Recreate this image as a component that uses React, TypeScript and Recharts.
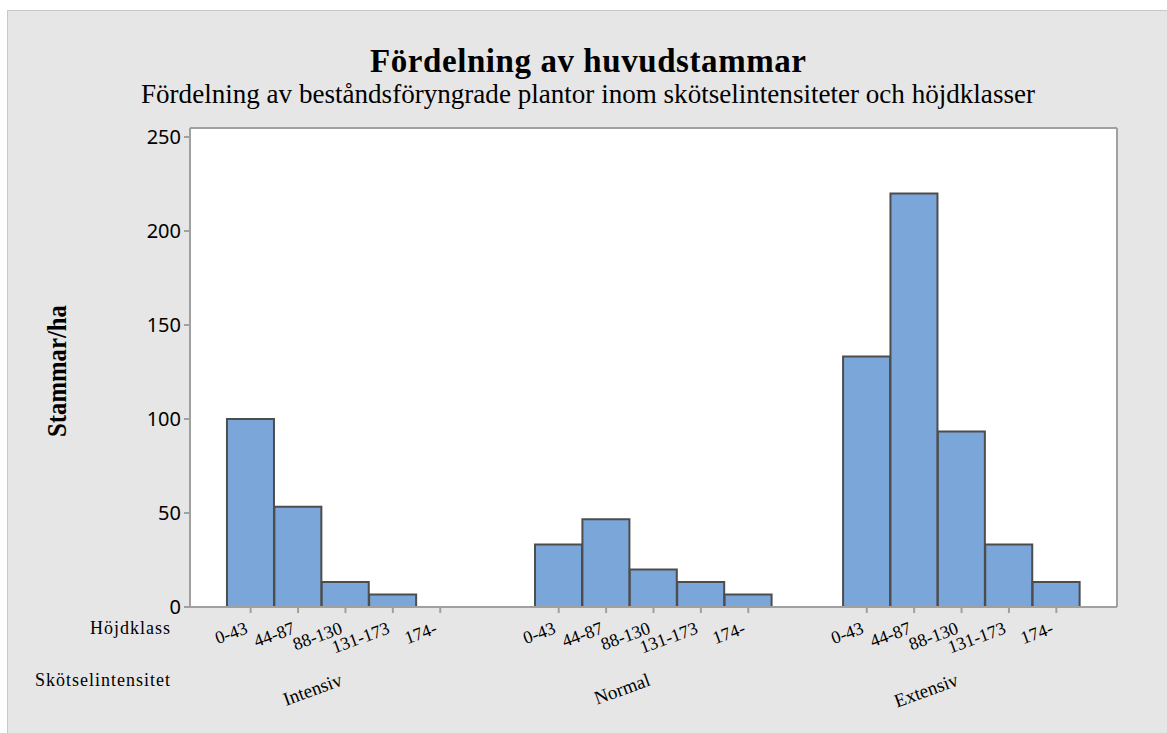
import React from "react";
import {
  BarChart,
  Bar,
  XAxis,
  YAxis,
  CartesianGrid,
  ReferenceLine,
} from "recharts";

// höjdklasser (cm) och skötselintensiteter
const CLASSES = ["0-43", "44-87", "88-130", "131-173", "174-"];
const GROUPS = ["Intensiv", "Normal", "Extensiv"];

// stammar/ha per höjdklass
const INTENSIV = [100, 53.3, 13.3, 6.7, 0];
const NORMAL = [33.3, 46.7, 20, 13.3, 6.7];
const EXTENSIV = [133.3, 220, 93.3, 33.3, 13.3];

const Y_TICKS = [0, 50, 100, 150, 200, 250];
const Y_MAX = 254.8;

// layout on the numeric x axis, in bar widths
const PAD = 0.78;
const GAP = 1.5;
const X_MAX = 2 * PAD + 15 + 2 * GAP;

const FRAME = "#a0a0a0";
const SERIF = "'Liberation Serif', 'Times New Roman', serif";

const data = [INTENSIV, NORMAL, EXTENSIV].flatMap((vals, g) =>
  vals.map((v, i) => ({
    x: PAD + 0.5 + g * (5 + GAP) + i,
    v,
    klass: CLASSES[i],
    grupp: GROUPS[g],
  }))
);
const xTicks = data.map((d) => d.x);

function XTick(props: any) {
  const { x, y, index } = props;
  const label = CLASSES[index % 5];
  const showGroup = index % 5 === 2;
  const ty = y + 18;
  const gy = y + 70;
  return (
    <g>
      <text
        x={x - 2}
        y={ty}
        textAnchor="end"
        fontFamily={SERIF}
        fontSize={18}
        fill="#000"
        transform={`rotate(-20, ${x - 2}, ${ty})`}
      >
        {label}
      </text>
      {showGroup && (
        <text
          x={x - 2}
          y={gy}
          textAnchor="end"
          fontFamily={SERIF}
          fontSize={19}
          fill="#000"
          transform={`rotate(-20, ${x - 2}, ${gy})`}
        >
          {GROUPS[Math.floor(index / 5)]}
        </text>
      )}
    </g>
  );
}

export default function App() {
  return (
    <div
      style={{
        position: "absolute",
        left: 0,
        top: 0,
        width: 1167,
        height: 733,
        background: "#fff",
        overflow: "hidden",
      }}
    >
      <div
        style={{
          position: "absolute",
          left: 7,
          top: 10,
          width: 1170,
          height: 730,
          background: "#e6e6e6",
          borderLeft: "1px solid #c8c8c8",
          borderTop: "1px solid #c8c8c8",
        }}
      />
      <div style={{ position: "absolute", left: 0, top: 0 }}>
        <BarChart
          width={1167}
          height={733}
          data={data}
          margin={{ top: 128, right: 50, left: 130, bottom: 96 }}
          barCategoryGap={0}
        >
          <CartesianGrid fill="#ffffff" horizontal={false} vertical={false} />
          <XAxis
            dataKey="x"
            type="number"
            domain={[0, X_MAX]}
            ticks={xTicks}
            interval={0}
            height={30}
            axisLine={{ stroke: FRAME, strokeWidth: 2 }}
            tickLine={{ stroke: FRAME, strokeWidth: 2 }}
            tickSize={6}
            tick={<XTick />}
          />
          <YAxis
            type="number"
            domain={[0, Y_MAX]}
            ticks={Y_TICKS}
            interval={0}
            width={60}
            axisLine={{ stroke: FRAME, strokeWidth: 2 }}
            tickLine={{ stroke: FRAME, strokeWidth: 2 }}
            tickSize={6}
            tickMargin={3}
            tick={{ fontFamily: "'Noto Sans', sans-serif", fontSize: 20, fill: "#000" }}
          />
          <ReferenceLine y={Y_MAX} stroke={FRAME} strokeWidth={2} />
          <ReferenceLine x={X_MAX} stroke={FRAME} strokeWidth={2} />
          <Bar
            dataKey="v"
            fill="#7ba6d9"
            stroke="#4d4d4d"
            strokeWidth={2}
            isAnimationActive={false}
          />
        </BarChart>
      </div>
      <svg
        width={1167}
        height={733}
        style={{ position: "absolute", left: 0, top: 0, pointerEvents: "none" }}
      >
        <text
          x={588}
          y={72}
          textAnchor="middle"
          fontFamily={SERIF}
          fontWeight="bold"
          fontSize={33}
          textLength={436}
          fill="#000"
        >
          Fördelning av huvudstammar
        </text>
        <text
          x={588}
          y={103}
          textAnchor="middle"
          fontFamily={SERIF}
          fontSize={27}
          textLength={894}
          lengthAdjust="spacingAndGlyphs"
          fill="#000"
        >
          Fördelning av beståndsföryngrade plantor inom skötselintensiteter och höjdklasser
        </text>
        <text
          x={66}
          y={371}
          textAnchor="middle"
          fontFamily={SERIF}
          fontWeight="bold"
          fontSize={28}
          textLength={132}
          lengthAdjust="spacingAndGlyphs"
          transform="rotate(-90, 66, 371)"
          fill="#000"
        >
          Stammar/ha
        </text>
        <text
          x={170}
          y={634}
          textAnchor="end"
          fontFamily={SERIF}
          fontSize={18}
          textLength={80}
          fill="#000"
        >
          Höjdklass
        </text>
        <text
          x={170}
          y={686}
          textAnchor="end"
          fontFamily={SERIF}
          fontSize={18}
          textLength={135}
          fill="#000"
        >
          Skötselintensitet
        </text>
      </svg>
    </div>
  );
}
